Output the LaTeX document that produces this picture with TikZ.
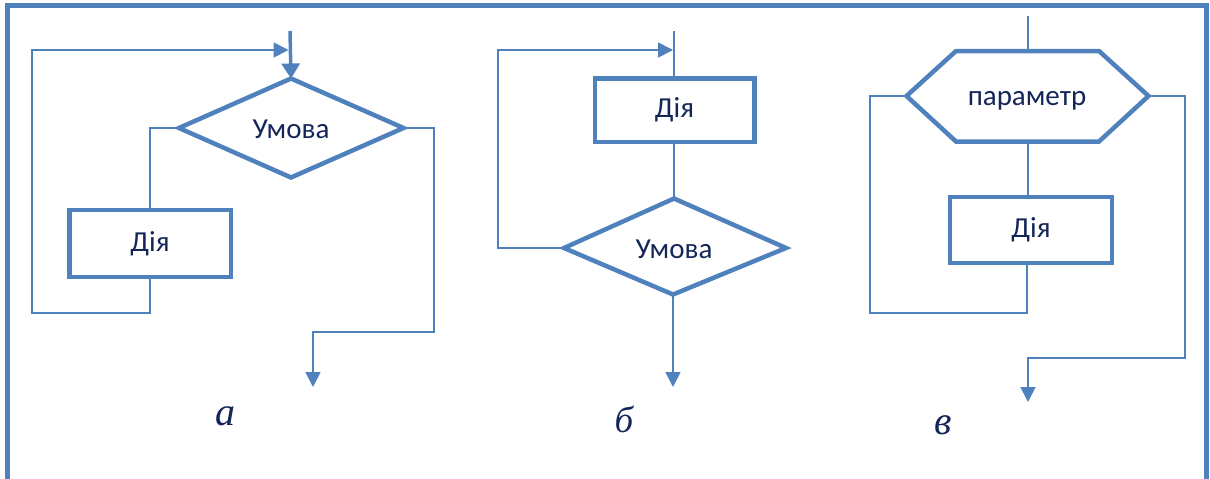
\documentclass[tikz,border=0pt]{standalone}
\usepackage{fontspec}
\setmainfont{Liberation Serif}
\newfontfamily\labelfont{Carlito}
\usetikzlibrary{arrows.meta,calc}
\definecolor{lineblue}{HTML}{4F81BD}
\definecolor{inkblue}{HTML}{142659}

\begin{document}
\begin{tikzpicture}[x=1pt,y=-1pt,
  shapeline/.style={draw=lineblue, line width=4.5pt, line join=miter},
  actbox/.style={shapeline, rectangle, inner sep=0pt, text=inkblue,
    font=\labelfont\fontsize{29}{32}\selectfont},
  lbl/.style={text=inkblue, inner sep=0pt, font=\labelfont\fontsize{29}{32}\selectfont},
  link/.style={draw=lineblue, line width=1.8pt},
  flow/.style={link, -{Triangle[length=15pt,width=15pt]}},
  tag/.style={text=inkblue, inner sep=0pt, font=\itshape},
]
\useasboundingbox (0,0) rectangle (1210,479);

% outer frame, open at the bottom
\draw[lineblue, line width=5pt] (7.5,482) -- (7.5,5.8) -- (1206,5.8) -- (1206,482);

% ---------- (a) loop with precondition ----------
\coordinate (aT) at (291,78.5);
\coordinate (aR) at (403.5,128);
\coordinate (aB) at (291,177.5);
\coordinate (aL) at (179,128);
\draw[shapeline] (aT) -- (aR) -- (aB) -- (aL) -- cycle;
\node[lbl] (aCond) at (291,129) {Умова};
\node[actbox, minimum width=161.5, minimum height=67] (aAct) at (150,243.5) {Дія};
\coordinate (aIn) at (290,31);
\coordinate (aOut) at (313,387);

\draw[link, line width=3.5pt, -{Triangle[length=15pt,width=18pt]}] (aIn) -- (aT);
\draw[link] (aL) -- (aL -| aAct.north) -- (aAct.north);
\draw[flow, shorten >=1.5pt] (aAct.south) -- (aAct.south |- 0,313) -- (32,313) -- (32,50) -- (aIn |- 0,50);
\draw[flow] (aR) -- (434,128) -- (434,332) -- (aOut |- 0,332) -- (aOut);
\node[tag, font=\itshape\fontsize{40}{44}\selectfont] (aTag) at (225,416) {а};

% ---------- (b) loop with postcondition ----------
\node[actbox, minimum width=159.5, minimum height=63.5] (bAct) at (674.5,110) {Дія};
\coordinate (bT) at (674,198.5);
\coordinate (bR) at (786,248);
\coordinate (bB) at (673,294.5);
\coordinate (bL) at (564,248);
\draw[shapeline] (bT) -- (bR) -- (bB) -- (bL) -- cycle;
\node[lbl] (bCond) at (674,249) {Умова};
\coordinate (bIn) at (674,31);
\coordinate (bOut) at (673,387);

\draw[link] (bIn) -- (bAct.north -| bIn);
\draw[link] (bAct.south -| bT) -- (bT);
\draw[flow, shorten >=1pt] (bL) -- (498,248) -- (498,50) -- (bIn |- 0,50);
\draw[flow] (bB) -- (bOut);
\node[tag, font=\itshape\fontsize{37}{40}\selectfont] (bTag) at (624,419) {б};

% ---------- (c) loop with parameter ----------
\coordinate (cT) at (1028,51);
\coordinate (cB) at (1028,141.5);
\coordinate (cL) at (906.5,96);
\coordinate (cR) at (1148.5,96);
\draw[shapeline] (cL) -- (956,51) -- (1099,51) -- (cR) -- (1099,141.5) -- (956,141.5) -- cycle;
\node[lbl] (cPar) at (1027,101) {параметр};
\node[actbox, minimum width=162, minimum height=66.4] (cAct) at (1031,230) {Дія};
\coordinate (cIn) at (1028,16);
\coordinate (cOut) at (1028,402);

\draw[link] (cIn) -- (cT);
\draw[link] (cB) -- (cB |- cAct.north);
\draw[link] (cL) -- (870,96) -- (870,313) -- (1027,313) -- (1027,0 |- cAct.south);
\draw[flow] (cR) -- (1185,96) -- (1185,358) -- (cOut |- 0,358) -- (cOut);
\node[tag, font=\itshape\fontsize{40}{44}\selectfont] (cTag) at (943,425) {в};
\end{tikzpicture}
\end{document}
